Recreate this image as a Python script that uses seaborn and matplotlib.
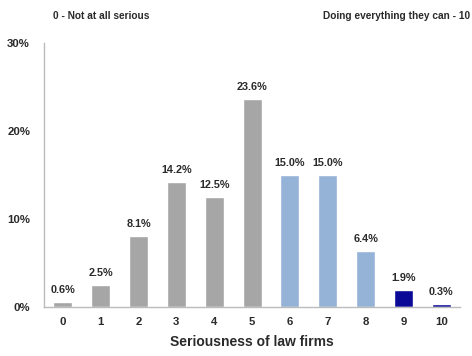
import matplotlib
matplotlib.use("Agg")
import matplotlib.pyplot as plt
import seaborn as sns
import pandas as pd
import numpy as np

categories = ["0", "1", "2", "3", "4", "5", "6", "7", "8", "9", "10"]
values = [0.6, 2.5, 8.1, 14.2, 12.5, 23.6, 15.0, 15.0, 6.4, 1.9, 0.3]
colors = ["#a6a6a6"] * 6 + ["#95b3d7"] * 3 + ["#0a0a96"] * 2
y_ticks = [0, 10, 20, 30]
y_tick_labels = ["0%", "10%", "20%", "30%"]

sns.set_theme(style="white")
plt.rcParams["font.family"] = ["Liberation Sans", "DejaVu Sans"]

df = pd.DataFrame({"cat": categories, "val": values})

fig = plt.figure(figsize=(4.72, 3.56), dpi=100)
ax = fig.add_axes([0.093, 0.138, 0.882, 0.741])
sns.barplot(data=df, x="cat", y="val", hue="cat", palette=colors, legend=False,
            width=0.5, ax=ax, order=categories, saturation=1)

txt = "#2a2a2a"
ax.set_xlim(-0.5, 10.5)
ax.set_ylim(0, 30)
ax.set_yticks(y_ticks)
ax.set_yticklabels(y_tick_labels, fontsize=8.2, fontweight="bold", color=txt)
ax.set_xticks(range(len(categories)))
ax.set_xticklabels(categories, fontsize=8.2, fontweight="bold", color=txt)
ax.set_xticks(np.arange(-0.5, 11, 1), minor=True)
ax.tick_params(axis="x", which="major", length=0, pad=7)
ax.tick_params(axis="x", which="minor", length=3, color="#bbbbbb", direction="out")
ax.tick_params(axis="y", which="major", length=4, color="#bbbbbb", direction="out", pad=6)
ax.set_ylabel("")
ax.set_xlabel("Seriousness of law firms", fontsize=10, fontweight="bold", color=txt, labelpad=6)

for s in ["top", "right"]:
    ax.spines[s].set_visible(False)
for s in ["left", "bottom"]:
    ax.spines[s].set_color("#bbbbbb")
    ax.spines[s].set_linewidth(1.0)

for i, v in enumerate(values):
    ax.text(i, v + 0.8, f"{v:.1f}%", ha="center", va="bottom", fontsize=7.8,
            fontweight="bold", color=txt)

fig.text(53 / 472, 1 - 16 / 356, "0 - Not at all serious", ha="left", va="center",
         fontsize=7.3, fontweight="bold", color=txt)
fig.text(470 / 472, 1 - 16 / 356, "Doing everything they can - 10", ha="right", va="center",
         fontsize=7.3, fontweight="bold", color=txt)

fig.savefig("out.png", dpi=100, facecolor="white")
